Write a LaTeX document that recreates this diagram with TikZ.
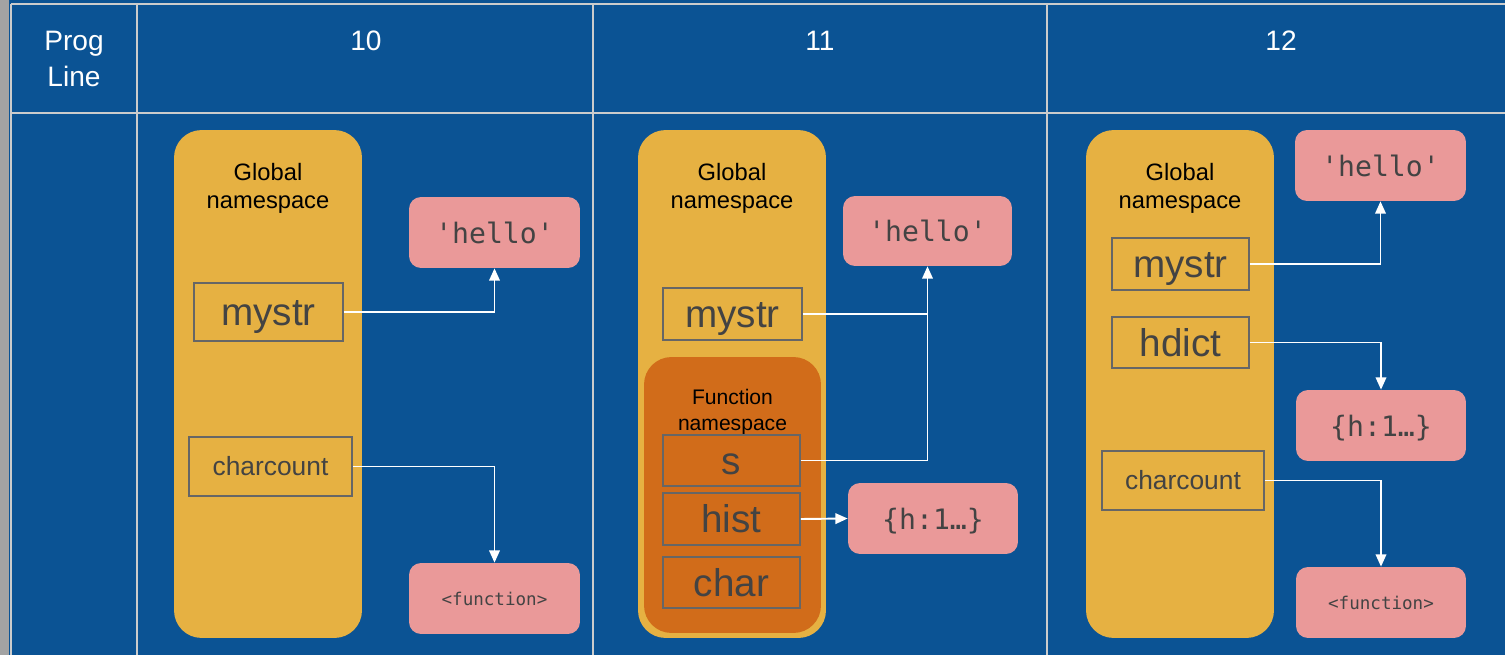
\documentclass[tikz,border=0pt]{standalone}
\usepackage{fontspec}
\setmainfont{Liberation Sans}
\newfontfamily\codefont{DejaVu Sans Mono}
\usetikzlibrary{arrows.meta}

\definecolor{fondo}{HTML}{0B5394}
\definecolor{rejilla}{HTML}{CCCCCC}
\definecolor{franja}{HTML}{A3A3A3}
\definecolor{amarillo}{HTML}{E6B142}
\definecolor{naranja}{HTML}{D16C1A}
\definecolor{rosa}{HTML}{EA9999}
\definecolor{texto}{HTML}{434343}
\definecolor{borde}{HTML}{666666}

\tikzset{
  globalns/.style={fill=amarillo, rounded corners=0.55cm, minimum width=3.76cm, minimum height=10.16cm, inner sep=0pt},
  funcns/.style={fill=naranja, rounded corners=0.55cm, minimum width=3.54cm, minimum height=5.52cm, inner sep=0pt},
  nslabel/.style={align=center, text=black, inner sep=0pt, font=\fontsize{13.5}{16}\selectfont},
  varbox/.style={draw=borde, line width=1.1pt, text=texto, inner sep=0pt, text height=15.8pt, text depth=0pt, minimum width=2.74cm, minimum height=1.03cm, font=\fontsize{22}{26}\selectfont},
  smallvar/.style={font=\fontsize{15}{18}\selectfont, text height=10.8pt},
  valbox/.style={fill=rosa, rounded corners=0.24cm, text=texto, inner sep=0pt, text height=12pt, text depth=0pt, minimum width=3.42cm, minimum height=1.42cm, font=\codefont\fontsize{16}{19}\selectfont},
  smallval/.style={font=\codefont\fontsize{10}{12}\selectfont, text height=7.5pt},
  cabecera/.style={text=white, inner sep=0pt, font=\fontsize{16}{20.5}\selectfont},
  linea/.style={draw=white, line width=1.1pt},
  ptr/.style={linea, -{Triangle[length=7pt,width=6pt]}},
}

\begin{document}
\begin{tikzpicture}[x=0.02cm, y=-0.02cm]
\useasboundingbox (0,0) rectangle (1505,655);

% Fondo y rejilla
\fill[fondo] (0,0) rectangle (1505,655);
\fill[franja] (0,0) rectangle (9,655);
\draw[rejilla, line width=1.1pt] (11,4) -- (1505,4);
\draw[rejilla, line width=1.1pt] (11,113) -- (1505,113);
\foreach \x in {11,137,593,1047}
  \draw[rejilla, line width=1.1pt] (\x,4) -- (\x,655);

% Cabecera
\node[cabecera, align=center, anchor=north] (prog) at (74,31) {Prog\\Line};
\node[cabecera, anchor=base] (linea10) at (366,51) {10};
\node[cabecera, anchor=base] (linea11) at (820,51) {11};
\node[cabecera, anchor=base] (linea12) at (1281,51) {12};

% Linea 10
\node[globalns] (glob10) at (268,384) {};
\node[nslabel] (glob10lbl) at (268,188) {Global\\namespace};
\node[varbox, minimum width=2.98cm, minimum height=1.16cm] (mystr10) at (268.5,312) {mystr};
\node[varbox, smallvar, minimum width=3.26cm, minimum height=1.18cm] (charcount10) at (270.5,466.5) {charcount};
\node[valbox] (hello10) at (494.5,232.5) {'hello'};
\node[valbox, smallval] (fun10) at (494.5,598.5) {<function>};
\draw[ptr] (mystr10.east) -| (hello10.south);
\draw[ptr] (charcount10.east) -| (fun10.north);

% Linea 11
\node[globalns] (glob11) at (732,384) {};
\node[nslabel] (glob11lbl) at (732,188) {Global\\namespace};
\node[varbox, minimum width=2.78cm, minimum height=1.04cm] (mystr11) at (732.5,314) {mystr};
\node[funcns] (func11) at (732.5,495) {};
\node[nslabel, font=\fontsize{12}{14.8}\selectfont] (func11lbl) at (732.5,412) {Function\\namespace};
\node[varbox] (s11) at (731.5,460.5) {s};
\node[varbox] (hist11) at (731.5,519) {hist};
\node[varbox] (char11) at (731.5,582.5) {char};
\node[valbox, minimum width=3.38cm, minimum height=1.4cm] (hello11) at (927.5,231) {'hello'};
\node[valbox, minimum width=3.4cm] (dict11) at (933,518.5) {\{h:1…\}};
\draw[linea] (mystr11.east) -- (mystr11.east -| hello11.south);
\draw[ptr] (s11.east) -| (hello11.south);
\draw[ptr] (hist11.east) -- (dict11.west);

% Linea 12
\node[globalns] (glob12) at (1180,384) {};
\node[nslabel] (glob12lbl) at (1180,188) {Global\\namespace};
\node[varbox] (mystr12) at (1180.5,264) {mystr};
\node[varbox] (hdict12) at (1180.5,342.5) {hdict};
\node[varbox, smallvar, minimum width=3.24cm, minimum height=1.18cm] (charcount12) at (1183,480.5) {charcount};
\node[valbox] (hello12) at (1380.5,165.5) {'hello'};
\node[valbox, minimum width=3.4cm] (dict12) at (1381,425.5) {\{h:1…\}};
\node[valbox, smallval, minimum width=3.4cm] (fun12) at (1381,602.5) {<function>};
\draw[ptr] (mystr12.east) -| (hello12.south);
\draw[ptr] (hdict12.east) -| (dict12.north);
\draw[ptr] (charcount12.east) -| (fun12.north);

\end{tikzpicture}
\end{document}
